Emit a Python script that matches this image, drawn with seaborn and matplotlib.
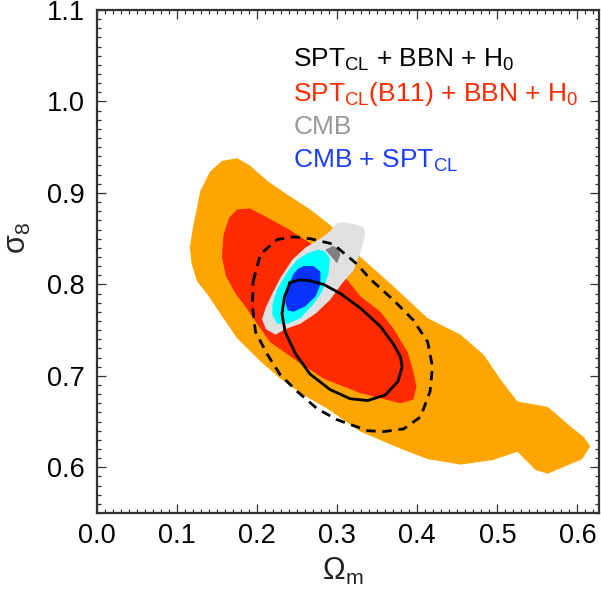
import numpy as np
import pandas as pd
import matplotlib
matplotlib.use("Agg")
from matplotlib import pyplot as plt
from matplotlib.ticker import MultipleLocator, FormatStrFormatter
import seaborn as sns

# contour outlines (Omega_m, sigma_8)
orange_x = [0.175, 0.191, 0.213, 0.238, 0.266, 0.291, 0.310, 0.329, 0.370, 0.413,
            0.454, 0.483, 0.504, 0.525, 0.563, 0.595, 0.608, 0.616, 0.606, 0.563,
            0.548, 0.525, 0.495, 0.454, 0.413, 0.383, 0.329, 0.288, 0.258, 0.229,
            0.204, 0.175, 0.154, 0.138, 0.125, 0.118, 0.116, 0.120, 0.129, 0.141, 0.156]
orange_y = [0.938, 0.930, 0.913, 0.898, 0.882, 0.865, 0.849, 0.830, 0.798, 0.763,
            0.745, 0.723, 0.696, 0.672, 0.666, 0.642, 0.633, 0.623, 0.609, 0.593,
            0.597, 0.617, 0.608, 0.603, 0.609, 0.619, 0.639, 0.664, 0.679, 0.697,
            0.716, 0.741, 0.768, 0.789, 0.803, 0.823, 0.841, 0.863, 0.902, 0.923, 0.935]

red_x = [0.175, 0.191, 0.213, 0.238, 0.263, 0.285, 0.304, 0.329, 0.354, 0.370,
         0.388, 0.395, 0.399, 0.395, 0.379, 0.329, 0.283, 0.250, 0.216, 0.200,
         0.185, 0.173, 0.161, 0.156, 0.158, 0.165]
red_y = [0.882, 0.883, 0.873, 0.861, 0.847, 0.834, 0.814, 0.787, 0.770, 0.752,
         0.726, 0.705, 0.688, 0.674, 0.670, 0.681, 0.697, 0.716, 0.737, 0.757,
         0.776, 0.790, 0.809, 0.830, 0.854, 0.873]

cmb95_x = [0.300, 0.310, 0.325, 0.333, 0.335, 0.330, 0.321, 0.306, 0.291, 0.273,
           0.254, 0.235, 0.223, 0.211, 0.206, 0.211, 0.219, 0.229, 0.244, 0.260,
           0.279, 0.291]
cmb95_y = [0.867, 0.868, 0.865, 0.862, 0.856, 0.838, 0.816, 0.801, 0.783, 0.768,
           0.757, 0.751, 0.745, 0.751, 0.762, 0.775, 0.790, 0.807, 0.827, 0.840,
           0.850, 0.858]

cmb68_x = [0.285, 0.295, 0.301, 0.304, 0.300, 0.294]
cmb68_y = [0.838, 0.842, 0.839, 0.833, 0.823, 0.829]

both95_x = [0.276, 0.285, 0.291, 0.289, 0.281, 0.270, 0.254, 0.238, 0.225, 0.219,
            0.219, 0.225, 0.238, 0.250, 0.263]
both95_y = [0.838, 0.836, 0.828, 0.811, 0.792, 0.778, 0.763, 0.757, 0.757, 0.767,
            0.778, 0.795, 0.814, 0.827, 0.834]

both68_x = [0.258, 0.270, 0.279, 0.279, 0.273, 0.260, 0.245, 0.238, 0.235, 0.238,
            0.245, 0.251]
both68_y = [0.820, 0.820, 0.814, 0.800, 0.787, 0.776, 0.770, 0.772, 0.781, 0.795,
            0.811, 0.817]

spt68_x = [0.241, 0.254, 0.266, 0.283, 0.304, 0.329, 0.354, 0.370, 0.379, 0.381,
           0.376, 0.360, 0.338, 0.316, 0.291, 0.266, 0.248, 0.235, 0.231, 0.234]
spt68_y = [0.802, 0.805, 0.804, 0.800, 0.790, 0.774, 0.754, 0.735, 0.721, 0.710,
           0.694, 0.679, 0.673, 0.675, 0.685, 0.702, 0.724, 0.748, 0.768, 0.786]

spt95_x = [0.195, 0.204, 0.225, 0.245, 0.266, 0.295, 0.325, 0.341, 0.370, 0.395,
           0.413, 0.419, 0.416, 0.404, 0.383, 0.358, 0.338, 0.300, 0.275, 0.250,
           0.229, 0.213, 0.198, 0.194]
spt95_y = [0.803, 0.833, 0.849, 0.852, 0.850, 0.844, 0.822, 0.806, 0.783, 0.761,
           0.737, 0.710, 0.683, 0.655, 0.642, 0.639, 0.640, 0.652, 0.664, 0.683,
           0.701, 0.723, 0.748, 0.776]

legend_labels = [r"SPT$_{CL}$ + BBN + H$_0$",
                 r"SPT$_{CL}$(B11) + BBN + H$_0$",
                 "CMB",
                 r"CMB + SPT$_{CL}$"]
legend_colors = ["black", "#ff2a00", "#999999", "#1a3cff"]

sns.set_style("ticks")
plt.rcParams["font.family"] = ["Liberation Sans", "DejaVu Sans"]
plt.rcParams["mathtext.default"] = "regular"

fig = plt.figure(figsize=(6.01, 5.89), dpi=100)
ax = fig.add_axes([0.1614, 0.129, 0.8353, 0.854])

# filled regions
ax.fill(orange_x, orange_y, color="#ffa500", lw=0)
ax.fill(red_x, red_y, color="#ff2a00", lw=0)
ax.fill(cmb95_x, cmb95_y, color="#e0e0e0", lw=0)
ax.fill(cmb68_x, cmb68_y, color="#808080", lw=0)
ax.fill(both95_x, both95_y, color="#00ffff", lw=0)
ax.fill(both68_x, both68_y, color="#0a32ff", lw=0)

# SPT_CL + BBN + H0 outlines
def closed(xs, ys):
    return pd.DataFrame({"x": xs + xs[:1], "y": ys + ys[:1]})

d68 = closed(spt68_x, spt68_y)
d95 = closed(spt95_x, spt95_y)
sns.lineplot(data=d68, x="x", y="y", sort=False, estimator=None,
             color="black", lw=2.0, ax=ax, solid_joinstyle="round")
sns.lineplot(data=d95, x="x", y="y", sort=False, estimator=None,
             color="black", lw=2.0, linestyle=(0, (3.4, 2.4)), ax=ax)

for i, (lab, col) in enumerate(zip(legend_labels, legend_colors)):
    ax.text(0.245, 1.038 - i * 0.037, lab, color=col, fontsize=19,
            ha="left", va="baseline")

ax.set_xlim(0.0, 0.627)
ax.set_ylim(0.55, 1.1)
ax.xaxis.set_major_locator(MultipleLocator(0.1))
ax.xaxis.set_minor_locator(MultipleLocator(0.01))
ax.yaxis.set_major_locator(MultipleLocator(0.1))
ax.yaxis.set_minor_locator(MultipleLocator(0.01))
ax.xaxis.set_major_formatter(FormatStrFormatter("%.1f"))
ax.yaxis.set_major_formatter(FormatStrFormatter("%.1f"))
ax.tick_params(which="both", direction="in", top=True, right=True,
               colors="#333333", labelcolor="black", labelsize=19.5, width=0.9)
ax.tick_params(which="major", length=6.5)
ax.tick_params(which="minor", length=3.2)
ax.tick_params(axis="x", which="major", pad=7.5)
ax.tick_params(axis="y", which="major", pad=9)
for s in ax.spines.values():
    s.set_linewidth(1.6)
    s.set_color("#333333")

ax.set_xlabel(r"$\Omega_m$", fontsize=22, color="#222222")
ax.set_ylabel(r"$\sigma_8$", fontsize=22)
ax.xaxis.set_label_coords(0.49, -0.085)
ax.yaxis.set_label_coords(-0.128, 0.547)

fig.savefig("out.png", dpi=100)
